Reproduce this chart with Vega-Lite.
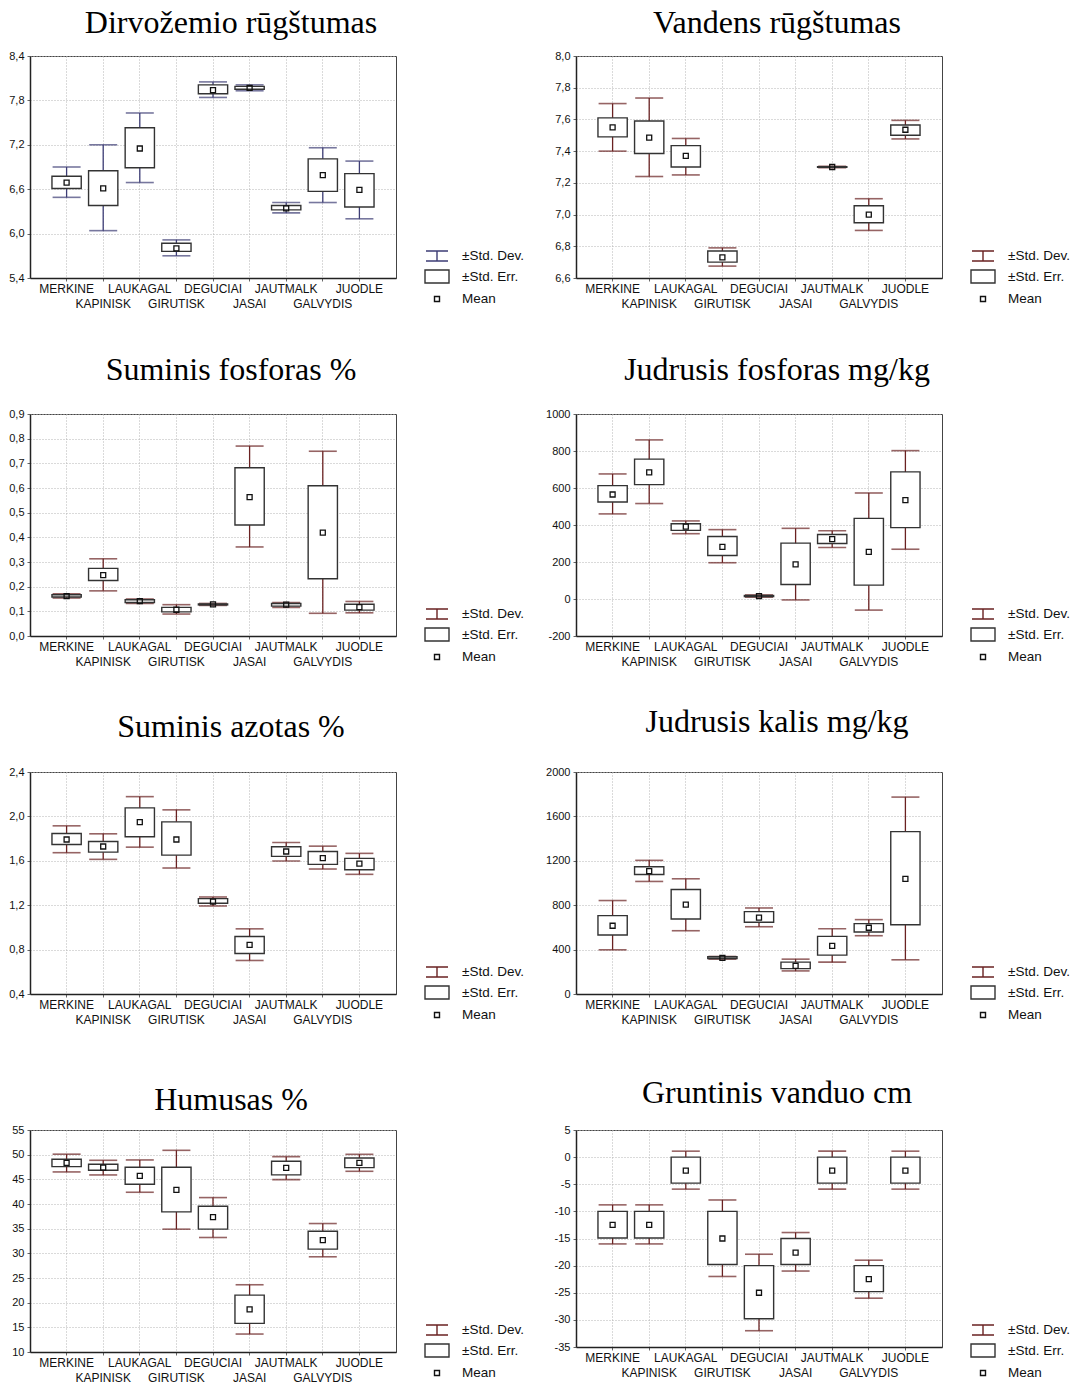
{
  "$schema": "https://vega.github.io/schema/vega-lite/v6.json",
  "background": "white",
  "padding": {"left": 8, "top": 6, "right": 2, "bottom": 0},
  "datasets": {
    "p1": [
      {"site": "MERKINE", "sd_lo": 6.49, "se_lo": 6.61, "mean": 6.69, "se_hi": 6.775, "sd_hi": 6.9},
      {"site": "KAPINISK", "sd_lo": 6.04, "se_lo": 6.38, "mean": 6.61, "se_hi": 6.85, "sd_hi": 7.2},
      {"site": "LAUKAGAL", "sd_lo": 6.69, "se_lo": 6.89, "mean": 7.15, "se_hi": 7.43, "sd_hi": 7.63},
      {"site": "GIRUTISK", "sd_lo": 5.7, "se_lo": 5.76, "mean": 5.8, "se_hi": 5.87, "sd_hi": 5.915},
      {"site": "DEGUCIAI", "sd_lo": 7.84, "se_lo": 7.89, "mean": 7.94, "se_hi": 8.01, "sd_hi": 8.05},
      {"site": "JASAI", "sd_lo": 7.93, "se_lo": 7.95, "mean": 7.97, "se_hi": 7.99, "sd_hi": 8.01},
      {"site": "JAUTMALK", "sd_lo": 6.28, "se_lo": 6.32, "mean": 6.34, "se_hi": 6.38, "sd_hi": 6.42},
      {"site": "GALVYDIS", "sd_lo": 6.42, "se_lo": 6.57, "mean": 6.79, "se_hi": 7.01, "sd_hi": 7.16},
      {"site": "JUODLE", "sd_lo": 6.2, "se_lo": 6.36, "mean": 6.59, "se_hi": 6.81, "sd_hi": 6.98}
    ],
    "p2": [
      {"site": "MERKINE", "sd_lo": 7.4, "se_lo": 7.49, "mean": 7.55, "se_hi": 7.61, "sd_hi": 7.7},
      {"site": "KAPINISK", "sd_lo": 7.24, "se_lo": 7.385, "mean": 7.485, "se_hi": 7.59, "sd_hi": 7.735},
      {"site": "LAUKAGAL", "sd_lo": 7.25, "se_lo": 7.3, "mean": 7.37, "se_hi": 7.435, "sd_hi": 7.48},
      {"site": "GIRUTISK", "sd_lo": 6.675, "se_lo": 6.7, "mean": 6.73, "se_hi": 6.77, "sd_hi": 6.79},
      {"site": "JAUTMALK", "sd_lo": 7.295, "se_lo": 7.298, "mean": 7.3, "se_hi": 7.302, "sd_hi": 7.305},
      {"site": "GALVYDIS", "sd_lo": 6.9, "se_lo": 6.948, "mean": 7.0, "se_hi": 7.056, "sd_hi": 7.1},
      {"site": "JUODLE", "sd_lo": 7.477, "se_lo": 7.5, "mean": 7.535, "se_hi": 7.565, "sd_hi": 7.594}
    ],
    "p3": [
      {"site": "MERKINE", "sd_lo": 0.154, "se_lo": 0.158, "mean": 0.162, "se_hi": 0.167, "sd_hi": 0.171},
      {"site": "KAPINISK", "sd_lo": 0.183, "se_lo": 0.225, "mean": 0.247, "se_hi": 0.274, "sd_hi": 0.313},
      {"site": "LAUKAGAL", "sd_lo": 0.132, "se_lo": 0.136, "mean": 0.1415, "se_hi": 0.147, "sd_hi": 0.15},
      {"site": "GIRUTISK", "sd_lo": 0.089, "se_lo": 0.098, "mean": 0.1065, "se_hi": 0.116, "sd_hi": 0.127},
      {"site": "DEGUCIAI", "sd_lo": 0.124, "se_lo": 0.126, "mean": 0.128, "se_hi": 0.13, "sd_hi": 0.132},
      {"site": "JASAI", "sd_lo": 0.361, "se_lo": 0.45, "mean": 0.563, "se_hi": 0.682, "sd_hi": 0.77},
      {"site": "JAUTMALK", "sd_lo": 0.116, "se_lo": 0.121, "mean": 0.127, "se_hi": 0.132, "sd_hi": 0.136},
      {"site": "GALVYDIS", "sd_lo": 0.092, "se_lo": 0.232, "mean": 0.419, "se_hi": 0.609, "sd_hi": 0.749},
      {"site": "JUODLE", "sd_lo": 0.094, "se_lo": 0.105, "mean": 0.117, "se_hi": 0.129, "sd_hi": 0.14}
    ],
    "p4": [
      {"site": "MERKINE", "sd_lo": 460, "se_lo": 524, "mean": 565, "se_hi": 613, "sd_hi": 676},
      {"site": "KAPINISK", "sd_lo": 516, "se_lo": 618, "mean": 685, "se_hi": 756, "sd_hi": 860},
      {"site": "LAUKAGAL", "sd_lo": 353, "se_lo": 371, "mean": 391, "se_hi": 407, "sd_hi": 422},
      {"site": "GIRUTISK", "sd_lo": 196, "se_lo": 235, "mean": 282, "se_hi": 338, "sd_hi": 375},
      {"site": "DEGUCIAI", "sd_lo": 10, "se_lo": 13, "mean": 16, "se_hi": 19, "sd_hi": 22},
      {"site": "JASAI", "sd_lo": -5, "se_lo": 78, "mean": 187, "se_hi": 302, "sd_hi": 382},
      {"site": "JAUTMALK", "sd_lo": 278, "se_lo": 300, "mean": 324, "se_hi": 349, "sd_hi": 369},
      {"site": "GALVYDIS", "sd_lo": -60, "se_lo": 75, "mean": 255, "se_hi": 436, "sd_hi": 573},
      {"site": "JUODLE", "sd_lo": 269, "se_lo": 386, "mean": 535, "se_hi": 687, "sd_hi": 802}
    ],
    "p5": [
      {"site": "MERKINE", "sd_lo": 1.673, "se_lo": 1.747, "mean": 1.792, "se_hi": 1.846, "sd_hi": 1.915},
      {"site": "KAPINISK", "sd_lo": 1.613, "se_lo": 1.678, "mean": 1.729, "se_hi": 1.774, "sd_hi": 1.843},
      {"site": "LAUKAGAL", "sd_lo": 1.723, "se_lo": 1.816, "mean": 1.948, "se_hi": 2.077, "sd_hi": 2.178},
      {"site": "GIRUTISK", "sd_lo": 1.535, "se_lo": 1.651, "mean": 1.792, "se_hi": 1.951, "sd_hi": 2.059},
      {"site": "DEGUCIAI", "sd_lo": 1.193, "se_lo": 1.217, "mean": 1.232, "se_hi": 1.259, "sd_hi": 1.274},
      {"site": "JASAI", "sd_lo": 0.702, "se_lo": 0.765, "mean": 0.843, "se_hi": 0.918, "sd_hi": 0.987},
      {"site": "JAUTMALK", "sd_lo": 1.598, "se_lo": 1.64, "mean": 1.684, "se_hi": 1.726, "sd_hi": 1.765},
      {"site": "GALVYDIS", "sd_lo": 1.526, "se_lo": 1.568, "mean": 1.625, "se_hi": 1.684, "sd_hi": 1.732},
      {"site": "JUODLE", "sd_lo": 1.478, "se_lo": 1.52, "mean": 1.574, "se_hi": 1.622, "sd_hi": 1.667}
    ],
    "p6": [
      {"site": "MERKINE", "sd_lo": 398, "se_lo": 531, "mean": 615, "se_hi": 706, "sd_hi": 842},
      {"site": "KAPINISK", "sd_lo": 1014, "se_lo": 1077, "mean": 1107, "se_hi": 1146, "sd_hi": 1204},
      {"site": "LAUKAGAL", "sd_lo": 570, "se_lo": 676, "mean": 805, "se_hi": 941, "sd_hi": 1038},
      {"site": "GIRUTISK", "sd_lo": 314, "se_lo": 320, "mean": 326, "se_hi": 335, "sd_hi": 338},
      {"site": "DEGUCIAI", "sd_lo": 606, "se_lo": 646, "mean": 688, "se_hi": 742, "sd_hi": 775},
      {"site": "JASAI", "sd_lo": 208, "se_lo": 229, "mean": 253, "se_hi": 287, "sd_hi": 314},
      {"site": "JAUTMALK", "sd_lo": 287, "se_lo": 350, "mean": 434, "se_hi": 519, "sd_hi": 588},
      {"site": "GALVYDIS", "sd_lo": 525, "se_lo": 558, "mean": 597, "se_hi": 634, "sd_hi": 670},
      {"site": "JUODLE", "sd_lo": 308, "se_lo": 624, "mean": 1038, "se_hi": 1463, "sd_hi": 1774}
    ],
    "p7": [
      {"site": "MERKINE", "sd_lo": 46.5, "se_lo": 47.58, "mean": 48.32, "se_hi": 49.06, "sd_hi": 50.1},
      {"site": "KAPINISK", "sd_lo": 45.89, "se_lo": 46.84, "mean": 47.38, "se_hi": 48.05, "sd_hi": 48.86},
      {"site": "LAUKAGAL", "sd_lo": 42.38, "se_lo": 44.0, "mean": 45.69, "se_hi": 47.44, "sd_hi": 48.93},
      {"site": "GIRUTISK", "sd_lo": 34.9, "se_lo": 38.4, "mean": 42.86, "se_hi": 47.44, "sd_hi": 50.88},
      {"site": "DEGUCIAI", "sd_lo": 33.21, "se_lo": 34.9, "mean": 37.32, "se_hi": 39.55, "sd_hi": 41.3},
      {"site": "JASAI", "sd_lo": 13.64, "se_lo": 15.8, "mean": 18.63, "se_hi": 21.53, "sd_hi": 23.63},
      {"site": "JAUTMALK", "sd_lo": 44.95, "se_lo": 45.9, "mean": 47.31, "se_hi": 48.66, "sd_hi": 49.6},
      {"site": "GALVYDIS", "sd_lo": 29.3, "se_lo": 30.85, "mean": 32.67, "se_hi": 34.49, "sd_hi": 36.04},
      {"site": "JUODLE", "sd_lo": 46.63, "se_lo": 47.38, "mean": 48.32, "se_hi": 49.33, "sd_hi": 50.07}
    ],
    "p8": [
      {"site": "MERKINE", "sd_lo": -16, "se_lo": -14.9, "mean": -12.5, "se_hi": -10, "sd_hi": -8.8},
      {"site": "KAPINISK", "sd_lo": -16, "se_lo": -14.9, "mean": -12.5, "se_hi": -10, "sd_hi": -8.8},
      {"site": "LAUKAGAL", "sd_lo": -5.9, "se_lo": -4.8, "mean": -2.5, "se_hi": 0, "sd_hi": 1.1},
      {"site": "GIRUTISK", "sd_lo": -22, "se_lo": -19.8, "mean": -15, "se_hi": -10, "sd_hi": -7.9},
      {"site": "DEGUCIAI", "sd_lo": -32, "se_lo": -29.8, "mean": -25, "se_hi": -20, "sd_hi": -17.9},
      {"site": "JASAI", "sd_lo": -21, "se_lo": -19.8, "mean": -17.6, "se_hi": -15, "sd_hi": -13.9},
      {"site": "JAUTMALK", "sd_lo": -5.9, "se_lo": -4.8, "mean": -2.5, "se_hi": 0, "sd_hi": 1.1},
      {"site": "GALVYDIS", "sd_lo": -26, "se_lo": -24.8, "mean": -22.5, "se_hi": -20, "sd_hi": -19},
      {"site": "JUODLE", "sd_lo": -5.9, "se_lo": -4.8, "mean": -2.5, "se_hi": 0, "sd_hi": 1.1}
    ]
  },
  "columns": 2,
  "bounds": "flush",
  "spacing": {"row": 136, "column": 180},
  "resolve": {
    "scale": {"x": "independent", "y": "independent", "shape": "independent", "stroke": "independent"},
    "axis": {"x": "independent", "y": "independent"},
    "legend": {"shape": "independent", "stroke": "independent"}
  },
  "concat": [
    {
      "data": {"name": "p1"},
      "width": 366, "height": 222,
      "title": {"text": "Dirvožemio rūgštumas", "offset": 10, "dx": 18},
      "encoding": {"x": {"field": "site", "type": "nominal", "sort": null, "title": null, "scale": {"domain": ["MERKINE", "KAPINISK", "LAUKAGAL", "GIRUTISK", "DEGUCIAI", "JASAI", "JAUTMALK", "GALVYDIS", "JUODLE"], "paddingInner": 0.2, "paddingOuter": 0.6}}},
      "layer": [
        {"mark": {"type": "rule", "color": "#3d3d75", "strokeWidth": 1.3}, "encoding": {"y": {"field": "sd_lo", "type": "quantitative", "title": null, "scale": {"domain": [5.4, 8.4], "nice": false, "zero": false}, "axis": {"values": [5.4, 6.0, 6.6, 7.2, 7.8, 8.4], "format": ".1f", "title": null}}, "y2": {"field": "sd_hi"}}},
        {"mark": {"type": "tick", "color": "#3d3d75", "thickness": 1.6, "size": 28}, "encoding": {"y": {"field": "sd_lo", "type": "quantitative", "title": null, "scale": {"domain": [5.4, 8.4], "nice": false, "zero": false}, "axis": {"values": [5.4, 6.0, 6.6, 7.2, 7.8, 8.4], "format": ".1f", "title": null}}}},
        {"mark": {"type": "tick", "color": "#3d3d75", "thickness": 1.6, "size": 28}, "encoding": {"y": {"field": "sd_hi", "type": "quantitative", "title": null, "scale": {"domain": [5.4, 8.4], "nice": false, "zero": false}, "axis": {"values": [5.4, 6.0, 6.6, 7.2, 7.8, 8.4], "format": ".1f", "title": null}}}},
        {"mark": {"type": "bar", "fill": "white", "stroke": "#333333", "strokeWidth": 1.4}, "encoding": {"y": {"field": "se_lo", "type": "quantitative", "title": null, "scale": {"domain": [5.4, 8.4], "nice": false, "zero": false}, "axis": {"values": [5.4, 6.0, 6.6, 7.2, 7.8, 8.4], "format": ".1f", "title": null}}, "y2": {"field": "se_hi"}}},
        {"mark": {"type": "point", "filled": false, "size": 400, "strokeWidth": 1.3, "opacity": 1}, "encoding": {
          "y": {"field": "mean", "type": "quantitative", "title": null, "scale": {"domain": [5.4, 8.4], "nice": false, "zero": false}, "axis": {"values": [5.4, 6.0, 6.6, 7.2, 7.8, 8.4], "format": ".1f", "title": null}},
          "shape": {"datum": "Mean", "type": "nominal", "scale": {"domain": ["±Std. Dev.", "±Std. Err.", "Mean"], "range": ["M-1.1,-0.5H1.1M0,-0.5V0.5M-1.1,0.5H1.1", "M-1.2,-0.65H1.2V0.65H-1.2Z", "M-0.25,-0.25H0.25V0.25H-0.25Z"]}, "legend": {"title": null, "orient": "none", "legendX": 396, "legendY": 189}},
          "stroke": {"datum": "Mean", "type": "nominal", "scale": {"domain": ["±Std. Dev.", "±Std. Err.", "Mean"], "range": ["#3d3d75", "#333333", "#111111"]}, "legend": {"title": null, "orient": "none", "legendX": 396, "legendY": 189}}
        }}
      ]
    },
    {
      "data": {"name": "p2"},
      "width": 366, "height": 222,
      "title": {"text": "Vandens rūgštumas", "offset": 10, "dx": 18},
      "encoding": {"x": {"field": "site", "type": "nominal", "sort": null, "title": null, "scale": {"domain": ["MERKINE", "KAPINISK", "LAUKAGAL", "GIRUTISK", "DEGUCIAI", "JASAI", "JAUTMALK", "GALVYDIS", "JUODLE"], "paddingInner": 0.2, "paddingOuter": 0.6}}},
      "layer": [
        {"mark": {"type": "rule", "color": "#6a2222", "strokeWidth": 1.3}, "encoding": {"y": {"field": "sd_lo", "type": "quantitative", "title": null, "scale": {"domain": [6.6, 8.0], "nice": false, "zero": false}, "axis": {"values": [6.6, 6.8, 7.0, 7.2, 7.4, 7.6, 7.8, 8.0], "format": ".1f", "title": null}}, "y2": {"field": "sd_hi"}}},
        {"mark": {"type": "tick", "color": "#6a2222", "thickness": 1.6, "size": 28}, "encoding": {"y": {"field": "sd_lo", "type": "quantitative", "title": null, "scale": {"domain": [6.6, 8.0], "nice": false, "zero": false}, "axis": {"values": [6.6, 6.8, 7.0, 7.2, 7.4, 7.6, 7.8, 8.0], "format": ".1f", "title": null}}}},
        {"mark": {"type": "tick", "color": "#6a2222", "thickness": 1.6, "size": 28}, "encoding": {"y": {"field": "sd_hi", "type": "quantitative", "title": null, "scale": {"domain": [6.6, 8.0], "nice": false, "zero": false}, "axis": {"values": [6.6, 6.8, 7.0, 7.2, 7.4, 7.6, 7.8, 8.0], "format": ".1f", "title": null}}}},
        {"mark": {"type": "bar", "fill": "white", "stroke": "#333333", "strokeWidth": 1.4}, "encoding": {"y": {"field": "se_lo", "type": "quantitative", "title": null, "scale": {"domain": [6.6, 8.0], "nice": false, "zero": false}, "axis": {"values": [6.6, 6.8, 7.0, 7.2, 7.4, 7.6, 7.8, 8.0], "format": ".1f", "title": null}}, "y2": {"field": "se_hi"}}},
        {"mark": {"type": "point", "filled": false, "size": 400, "strokeWidth": 1.3, "opacity": 1}, "encoding": {
          "y": {"field": "mean", "type": "quantitative", "title": null, "scale": {"domain": [6.6, 8.0], "nice": false, "zero": false}, "axis": {"values": [6.6, 6.8, 7.0, 7.2, 7.4, 7.6, 7.8, 8.0], "format": ".1f", "title": null}},
          "shape": {"datum": "Mean", "type": "nominal", "scale": {"domain": ["±Std. Dev.", "±Std. Err.", "Mean"], "range": ["M-1.1,-0.5H1.1M0,-0.5V0.5M-1.1,0.5H1.1", "M-1.2,-0.65H1.2V0.65H-1.2Z", "M-0.25,-0.25H0.25V0.25H-0.25Z"]}, "legend": {"title": null, "orient": "none", "legendX": 396, "legendY": 189}},
          "stroke": {"datum": "Mean", "type": "nominal", "scale": {"domain": ["±Std. Dev.", "±Std. Err.", "Mean"], "range": ["#6a2222", "#333333", "#111111"]}, "legend": {"title": null, "orient": "none", "legendX": 396, "legendY": 189}}
        }}
      ]
    },
    {
      "data": {"name": "p3"},
      "width": 366, "height": 222,
      "title": {"text": "Suminis fosforas %", "offset": 21, "dx": 18},
      "encoding": {"x": {"field": "site", "type": "nominal", "sort": null, "title": null, "scale": {"domain": ["MERKINE", "KAPINISK", "LAUKAGAL", "GIRUTISK", "DEGUCIAI", "JASAI", "JAUTMALK", "GALVYDIS", "JUODLE"], "paddingInner": 0.2, "paddingOuter": 0.6}}},
      "layer": [
        {"mark": {"type": "rule", "color": "#6a2222", "strokeWidth": 1.3}, "encoding": {"y": {"field": "sd_lo", "type": "quantitative", "title": null, "scale": {"domain": [0, 0.9], "nice": false, "zero": false}, "axis": {"values": [0, 0.1, 0.2, 0.3, 0.4, 0.5, 0.6, 0.7, 0.8, 0.9], "format": ".1f", "title": null}}, "y2": {"field": "sd_hi"}}},
        {"mark": {"type": "tick", "color": "#6a2222", "thickness": 1.6, "size": 28}, "encoding": {"y": {"field": "sd_lo", "type": "quantitative", "title": null, "scale": {"domain": [0, 0.9], "nice": false, "zero": false}, "axis": {"values": [0, 0.1, 0.2, 0.3, 0.4, 0.5, 0.6, 0.7, 0.8, 0.9], "format": ".1f", "title": null}}}},
        {"mark": {"type": "tick", "color": "#6a2222", "thickness": 1.6, "size": 28}, "encoding": {"y": {"field": "sd_hi", "type": "quantitative", "title": null, "scale": {"domain": [0, 0.9], "nice": false, "zero": false}, "axis": {"values": [0, 0.1, 0.2, 0.3, 0.4, 0.5, 0.6, 0.7, 0.8, 0.9], "format": ".1f", "title": null}}}},
        {"mark": {"type": "bar", "fill": "white", "stroke": "#333333", "strokeWidth": 1.4}, "encoding": {"y": {"field": "se_lo", "type": "quantitative", "title": null, "scale": {"domain": [0, 0.9], "nice": false, "zero": false}, "axis": {"values": [0, 0.1, 0.2, 0.3, 0.4, 0.5, 0.6, 0.7, 0.8, 0.9], "format": ".1f", "title": null}}, "y2": {"field": "se_hi"}}},
        {"mark": {"type": "point", "filled": false, "size": 400, "strokeWidth": 1.3, "opacity": 1}, "encoding": {
          "y": {"field": "mean", "type": "quantitative", "title": null, "scale": {"domain": [0, 0.9], "nice": false, "zero": false}, "axis": {"values": [0, 0.1, 0.2, 0.3, 0.4, 0.5, 0.6, 0.7, 0.8, 0.9], "format": ".1f", "title": null}},
          "shape": {"datum": "Mean", "type": "nominal", "scale": {"domain": ["±Std. Dev.", "±Std. Err.", "Mean"], "range": ["M-1.1,-0.5H1.1M0,-0.5V0.5M-1.1,0.5H1.1", "M-1.2,-0.65H1.2V0.65H-1.2Z", "M-0.25,-0.25H0.25V0.25H-0.25Z"]}, "legend": {"title": null, "orient": "none", "legendX": 396, "legendY": 189}},
          "stroke": {"datum": "Mean", "type": "nominal", "scale": {"domain": ["±Std. Dev.", "±Std. Err.", "Mean"], "range": ["#6a2222", "#333333", "#111111"]}, "legend": {"title": null, "orient": "none", "legendX": 396, "legendY": 189}}
        }}
      ]
    },
    {
      "data": {"name": "p4"},
      "width": 366, "height": 222,
      "title": {"text": "Judrusis fosforas mg/kg", "offset": 21, "dx": 18},
      "encoding": {"x": {"field": "site", "type": "nominal", "sort": null, "title": null, "scale": {"domain": ["MERKINE", "KAPINISK", "LAUKAGAL", "GIRUTISK", "DEGUCIAI", "JASAI", "JAUTMALK", "GALVYDIS", "JUODLE"], "paddingInner": 0.2, "paddingOuter": 0.6}}},
      "layer": [
        {"mark": {"type": "rule", "color": "#6a2222", "strokeWidth": 1.3}, "encoding": {"y": {"field": "sd_lo", "type": "quantitative", "title": null, "scale": {"domain": [-200, 1000], "nice": false, "zero": false}, "axis": {"values": [-200, 0, 200, 400, 600, 800, 1000], "format": "d", "title": null}}, "y2": {"field": "sd_hi"}}},
        {"mark": {"type": "tick", "color": "#6a2222", "thickness": 1.6, "size": 28}, "encoding": {"y": {"field": "sd_lo", "type": "quantitative", "title": null, "scale": {"domain": [-200, 1000], "nice": false, "zero": false}, "axis": {"values": [-200, 0, 200, 400, 600, 800, 1000], "format": "d", "title": null}}}},
        {"mark": {"type": "tick", "color": "#6a2222", "thickness": 1.6, "size": 28}, "encoding": {"y": {"field": "sd_hi", "type": "quantitative", "title": null, "scale": {"domain": [-200, 1000], "nice": false, "zero": false}, "axis": {"values": [-200, 0, 200, 400, 600, 800, 1000], "format": "d", "title": null}}}},
        {"mark": {"type": "bar", "fill": "white", "stroke": "#333333", "strokeWidth": 1.4}, "encoding": {"y": {"field": "se_lo", "type": "quantitative", "title": null, "scale": {"domain": [-200, 1000], "nice": false, "zero": false}, "axis": {"values": [-200, 0, 200, 400, 600, 800, 1000], "format": "d", "title": null}}, "y2": {"field": "se_hi"}}},
        {"mark": {"type": "point", "filled": false, "size": 400, "strokeWidth": 1.3, "opacity": 1}, "encoding": {
          "y": {"field": "mean", "type": "quantitative", "title": null, "scale": {"domain": [-200, 1000], "nice": false, "zero": false}, "axis": {"values": [-200, 0, 200, 400, 600, 800, 1000], "format": "d", "title": null}},
          "shape": {"datum": "Mean", "type": "nominal", "scale": {"domain": ["±Std. Dev.", "±Std. Err.", "Mean"], "range": ["M-1.1,-0.5H1.1M0,-0.5V0.5M-1.1,0.5H1.1", "M-1.2,-0.65H1.2V0.65H-1.2Z", "M-0.25,-0.25H0.25V0.25H-0.25Z"]}, "legend": {"title": null, "orient": "none", "legendX": 396, "legendY": 189}},
          "stroke": {"datum": "Mean", "type": "nominal", "scale": {"domain": ["±Std. Dev.", "±Std. Err.", "Mean"], "range": ["#6a2222", "#333333", "#111111"]}, "legend": {"title": null, "orient": "none", "legendX": 396, "legendY": 189}}
        }}
      ]
    },
    {
      "data": {"name": "p5"},
      "width": 366, "height": 222,
      "title": {"text": "Suminis azotas %", "offset": 22, "dx": 18},
      "encoding": {"x": {"field": "site", "type": "nominal", "sort": null, "title": null, "scale": {"domain": ["MERKINE", "KAPINISK", "LAUKAGAL", "GIRUTISK", "DEGUCIAI", "JASAI", "JAUTMALK", "GALVYDIS", "JUODLE"], "paddingInner": 0.2, "paddingOuter": 0.6}}},
      "layer": [
        {"mark": {"type": "rule", "color": "#6a2222", "strokeWidth": 1.3}, "encoding": {"y": {"field": "sd_lo", "type": "quantitative", "title": null, "scale": {"domain": [0.4, 2.4], "nice": false, "zero": false}, "axis": {"values": [0.4, 0.8, 1.2, 1.6, 2.0, 2.4], "format": ".1f", "title": null}}, "y2": {"field": "sd_hi"}}},
        {"mark": {"type": "tick", "color": "#6a2222", "thickness": 1.6, "size": 28}, "encoding": {"y": {"field": "sd_lo", "type": "quantitative", "title": null, "scale": {"domain": [0.4, 2.4], "nice": false, "zero": false}, "axis": {"values": [0.4, 0.8, 1.2, 1.6, 2.0, 2.4], "format": ".1f", "title": null}}}},
        {"mark": {"type": "tick", "color": "#6a2222", "thickness": 1.6, "size": 28}, "encoding": {"y": {"field": "sd_hi", "type": "quantitative", "title": null, "scale": {"domain": [0.4, 2.4], "nice": false, "zero": false}, "axis": {"values": [0.4, 0.8, 1.2, 1.6, 2.0, 2.4], "format": ".1f", "title": null}}}},
        {"mark": {"type": "bar", "fill": "white", "stroke": "#333333", "strokeWidth": 1.4}, "encoding": {"y": {"field": "se_lo", "type": "quantitative", "title": null, "scale": {"domain": [0.4, 2.4], "nice": false, "zero": false}, "axis": {"values": [0.4, 0.8, 1.2, 1.6, 2.0, 2.4], "format": ".1f", "title": null}}, "y2": {"field": "se_hi"}}},
        {"mark": {"type": "point", "filled": false, "size": 400, "strokeWidth": 1.3, "opacity": 1}, "encoding": {
          "y": {"field": "mean", "type": "quantitative", "title": null, "scale": {"domain": [0.4, 2.4], "nice": false, "zero": false}, "axis": {"values": [0.4, 0.8, 1.2, 1.6, 2.0, 2.4], "format": ".1f", "title": null}},
          "shape": {"datum": "Mean", "type": "nominal", "scale": {"domain": ["±Std. Dev.", "±Std. Err.", "Mean"], "range": ["M-1.1,-0.5H1.1M0,-0.5V0.5M-1.1,0.5H1.1", "M-1.2,-0.65H1.2V0.65H-1.2Z", "M-0.25,-0.25H0.25V0.25H-0.25Z"]}, "legend": {"title": null, "orient": "none", "legendX": 396, "legendY": 189}},
          "stroke": {"datum": "Mean", "type": "nominal", "scale": {"domain": ["±Std. Dev.", "±Std. Err.", "Mean"], "range": ["#6a2222", "#333333", "#111111"]}, "legend": {"title": null, "orient": "none", "legendX": 396, "legendY": 189}}
        }}
      ]
    },
    {
      "data": {"name": "p6"},
      "width": 366, "height": 222,
      "title": {"text": "Judrusis kalis mg/kg", "offset": 27, "dx": 18},
      "encoding": {"x": {"field": "site", "type": "nominal", "sort": null, "title": null, "scale": {"domain": ["MERKINE", "KAPINISK", "LAUKAGAL", "GIRUTISK", "DEGUCIAI", "JASAI", "JAUTMALK", "GALVYDIS", "JUODLE"], "paddingInner": 0.2, "paddingOuter": 0.6}}},
      "layer": [
        {"mark": {"type": "rule", "color": "#6a2222", "strokeWidth": 1.3}, "encoding": {"y": {"field": "sd_lo", "type": "quantitative", "title": null, "scale": {"domain": [0, 2000], "nice": false, "zero": false}, "axis": {"values": [0, 400, 800, 1200, 1600, 2000], "format": "d", "title": null}}, "y2": {"field": "sd_hi"}}},
        {"mark": {"type": "tick", "color": "#6a2222", "thickness": 1.6, "size": 28}, "encoding": {"y": {"field": "sd_lo", "type": "quantitative", "title": null, "scale": {"domain": [0, 2000], "nice": false, "zero": false}, "axis": {"values": [0, 400, 800, 1200, 1600, 2000], "format": "d", "title": null}}}},
        {"mark": {"type": "tick", "color": "#6a2222", "thickness": 1.6, "size": 28}, "encoding": {"y": {"field": "sd_hi", "type": "quantitative", "title": null, "scale": {"domain": [0, 2000], "nice": false, "zero": false}, "axis": {"values": [0, 400, 800, 1200, 1600, 2000], "format": "d", "title": null}}}},
        {"mark": {"type": "bar", "fill": "white", "stroke": "#333333", "strokeWidth": 1.4}, "encoding": {"y": {"field": "se_lo", "type": "quantitative", "title": null, "scale": {"domain": [0, 2000], "nice": false, "zero": false}, "axis": {"values": [0, 400, 800, 1200, 1600, 2000], "format": "d", "title": null}}, "y2": {"field": "se_hi"}}},
        {"mark": {"type": "point", "filled": false, "size": 400, "strokeWidth": 1.3, "opacity": 1}, "encoding": {
          "y": {"field": "mean", "type": "quantitative", "title": null, "scale": {"domain": [0, 2000], "nice": false, "zero": false}, "axis": {"values": [0, 400, 800, 1200, 1600, 2000], "format": "d", "title": null}},
          "shape": {"datum": "Mean", "type": "nominal", "scale": {"domain": ["±Std. Dev.", "±Std. Err.", "Mean"], "range": ["M-1.1,-0.5H1.1M0,-0.5V0.5M-1.1,0.5H1.1", "M-1.2,-0.65H1.2V0.65H-1.2Z", "M-0.25,-0.25H0.25V0.25H-0.25Z"]}, "legend": {"title": null, "orient": "none", "legendX": 396, "legendY": 189}},
          "stroke": {"datum": "Mean", "type": "nominal", "scale": {"domain": ["±Std. Dev.", "±Std. Err.", "Mean"], "range": ["#6a2222", "#333333", "#111111"]}, "legend": {"title": null, "orient": "none", "legendX": 396, "legendY": 189}}
        }}
      ]
    },
    {
      "data": {"name": "p7"},
      "width": 366, "height": 222,
      "title": {"text": "Humusas %", "offset": 7, "dx": 18},
      "encoding": {"x": {"field": "site", "type": "nominal", "sort": null, "title": null, "scale": {"domain": ["MERKINE", "KAPINISK", "LAUKAGAL", "GIRUTISK", "DEGUCIAI", "JASAI", "JAUTMALK", "GALVYDIS", "JUODLE"], "paddingInner": 0.2, "paddingOuter": 0.6}}},
      "layer": [
        {"mark": {"type": "rule", "color": "#6a2222", "strokeWidth": 1.3}, "encoding": {"y": {"field": "sd_lo", "type": "quantitative", "title": null, "scale": {"domain": [10, 55], "nice": false, "zero": false}, "axis": {"values": [10, 15, 20, 25, 30, 35, 40, 45, 50, 55], "format": "d", "title": null}}, "y2": {"field": "sd_hi"}}},
        {"mark": {"type": "tick", "color": "#6a2222", "thickness": 1.6, "size": 28}, "encoding": {"y": {"field": "sd_lo", "type": "quantitative", "title": null, "scale": {"domain": [10, 55], "nice": false, "zero": false}, "axis": {"values": [10, 15, 20, 25, 30, 35, 40, 45, 50, 55], "format": "d", "title": null}}}},
        {"mark": {"type": "tick", "color": "#6a2222", "thickness": 1.6, "size": 28}, "encoding": {"y": {"field": "sd_hi", "type": "quantitative", "title": null, "scale": {"domain": [10, 55], "nice": false, "zero": false}, "axis": {"values": [10, 15, 20, 25, 30, 35, 40, 45, 50, 55], "format": "d", "title": null}}}},
        {"mark": {"type": "bar", "fill": "white", "stroke": "#333333", "strokeWidth": 1.4}, "encoding": {"y": {"field": "se_lo", "type": "quantitative", "title": null, "scale": {"domain": [10, 55], "nice": false, "zero": false}, "axis": {"values": [10, 15, 20, 25, 30, 35, 40, 45, 50, 55], "format": "d", "title": null}}, "y2": {"field": "se_hi"}}},
        {"mark": {"type": "point", "filled": false, "size": 400, "strokeWidth": 1.3, "opacity": 1}, "encoding": {
          "y": {"field": "mean", "type": "quantitative", "title": null, "scale": {"domain": [10, 55], "nice": false, "zero": false}, "axis": {"values": [10, 15, 20, 25, 30, 35, 40, 45, 50, 55], "format": "d", "title": null}},
          "shape": {"datum": "Mean", "type": "nominal", "scale": {"domain": ["±Std. Dev.", "±Std. Err.", "Mean"], "range": ["M-1.1,-0.5H1.1M0,-0.5V0.5M-1.1,0.5H1.1", "M-1.2,-0.65H1.2V0.65H-1.2Z", "M-0.25,-0.25H0.25V0.25H-0.25Z"]}, "legend": {"title": null, "orient": "none", "legendX": 396, "legendY": 189}},
          "stroke": {"datum": "Mean", "type": "nominal", "scale": {"domain": ["±Std. Dev.", "±Std. Err.", "Mean"], "range": ["#6a2222", "#333333", "#111111"]}, "legend": {"title": null, "orient": "none", "legendX": 396, "legendY": 189}}
        }}
      ]
    },
    {
      "data": {"name": "p8"},
      "width": 366, "height": 217,
      "title": {"text": "Gruntinis vanduo cm", "offset": 14, "dx": 18},
      "encoding": {"x": {"field": "site", "type": "nominal", "sort": null, "title": null, "scale": {"domain": ["MERKINE", "KAPINISK", "LAUKAGAL", "GIRUTISK", "DEGUCIAI", "JASAI", "JAUTMALK", "GALVYDIS", "JUODLE"], "paddingInner": 0.2, "paddingOuter": 0.6}}},
      "layer": [
        {"mark": {"type": "rule", "color": "#6a2222", "strokeWidth": 1.3}, "encoding": {"y": {"field": "sd_lo", "type": "quantitative", "title": null, "scale": {"domain": [-35, 5], "nice": false, "zero": false}, "axis": {"values": [-35, -30, -25, -20, -15, -10, -5, 0, 5], "format": "d", "title": null}}, "y2": {"field": "sd_hi"}}},
        {"mark": {"type": "tick", "color": "#6a2222", "thickness": 1.6, "size": 28}, "encoding": {"y": {"field": "sd_lo", "type": "quantitative", "title": null, "scale": {"domain": [-35, 5], "nice": false, "zero": false}, "axis": {"values": [-35, -30, -25, -20, -15, -10, -5, 0, 5], "format": "d", "title": null}}}},
        {"mark": {"type": "tick", "color": "#6a2222", "thickness": 1.6, "size": 28}, "encoding": {"y": {"field": "sd_hi", "type": "quantitative", "title": null, "scale": {"domain": [-35, 5], "nice": false, "zero": false}, "axis": {"values": [-35, -30, -25, -20, -15, -10, -5, 0, 5], "format": "d", "title": null}}}},
        {"mark": {"type": "bar", "fill": "white", "stroke": "#333333", "strokeWidth": 1.4}, "encoding": {"y": {"field": "se_lo", "type": "quantitative", "title": null, "scale": {"domain": [-35, 5], "nice": false, "zero": false}, "axis": {"values": [-35, -30, -25, -20, -15, -10, -5, 0, 5], "format": "d", "title": null}}, "y2": {"field": "se_hi"}}},
        {"mark": {"type": "point", "filled": false, "size": 400, "strokeWidth": 1.3, "opacity": 1}, "encoding": {
          "y": {"field": "mean", "type": "quantitative", "title": null, "scale": {"domain": [-35, 5], "nice": false, "zero": false}, "axis": {"values": [-35, -30, -25, -20, -15, -10, -5, 0, 5], "format": "d", "title": null}},
          "shape": {"datum": "Mean", "type": "nominal", "scale": {"domain": ["±Std. Dev.", "±Std. Err.", "Mean"], "range": ["M-1.1,-0.5H1.1M0,-0.5V0.5M-1.1,0.5H1.1", "M-1.2,-0.65H1.2V0.65H-1.2Z", "M-0.25,-0.25H0.25V0.25H-0.25Z"]}, "legend": {"title": null, "orient": "none", "legendX": 396, "legendY": 189}},
          "stroke": {"datum": "Mean", "type": "nominal", "scale": {"domain": ["±Std. Dev.", "±Std. Err.", "Mean"], "range": ["#6a2222", "#333333", "#111111"]}, "legend": {"title": null, "orient": "none", "legendX": 396, "legendY": 189}}
        }}
      ]
    }
  ],
  "config": {
    "font": "Liberation Sans",
    "view": {"stroke": "#444444", "strokeWidth": 1},
    "axis": {
      "grid": true, "gridColor": "#b5b5b5", "gridDash": [1, 2], "gridWidth": 1,
      "domainColor": "#222222", "domainWidth": 1.5,
      "tickColor": "#666666", "tickSize": 3,
      "labelColor": "#111111", "labelFont": "Liberation Sans"
    },
    "axisX": {
      "labelFontSize": 12, "labelAngle": 0, "bandPosition": 0.5, "labelLineHeight": 15,
      "labelPadding": 2, "labelOverlap": false, "labelBound": false, "labelFlush": false,
      "labelExpr": "indexof(['KAPINISK', 'GIRUTISK', 'JASAI', 'GALVYDIS'], datum.value) >= 0 ? ['', datum.label] : datum.label"
    },
    "axisY": {
      "labelFontSize": 11, "labelPadding": 3,
      "labelExpr": "replace(replace(datum.label, '.', ','), '\u2212', '-')"
    },
    "legend": {
      "labelFont": "Liberation Sans", "labelFontSize": 13.5, "labelColor": "#111111",
      "symbolSize": 400, "rowPadding": 1.5, "labelOffset": 14, "padding": 0, "symbolStrokeWidth": 1.4
    },
    "title": {
      "font": "Liberation Serif", "fontSize": 32, "fontWeight": "normal", "color": "#000000",
      "anchor": "middle", "baseline": "alphabetic", "frame": "group"
    }
  }
}
